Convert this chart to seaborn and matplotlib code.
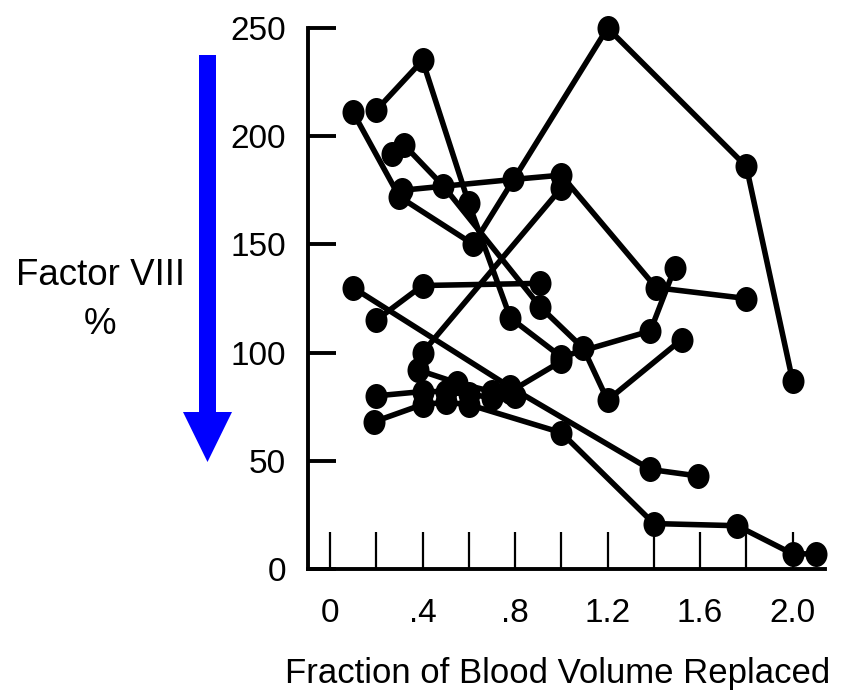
import numpy as np
import pandas as pd
import matplotlib
matplotlib.use("Agg")
import matplotlib.pyplot as plt
from matplotlib.markers import MarkerStyle
from matplotlib.transforms import Affine2D
from matplotlib.patches import FancyArrow
import seaborn as sns

# Factor VIII level (%) against fraction of blood volume replaced, one trace per patient
frac_a = [0.10, 0.30, 0.62, 1.20, 1.80, 2.00]
f8_a = [211, 172, 150, 250, 186, 87]

frac_b = [0.20, 0.40, 0.60, 0.78, 1.00, 1.385, 1.49]
f8_b = [212, 235, 169, 116, 98, 110, 139]

frac_c = [0.27, 0.32, 0.49, 0.91, 1.095, 1.20, 1.52]
f8_c = [192, 196, 177, 121, 102, 78, 106]

frac_d = [0.31, 0.79, 1.00, 1.41, 1.80]
f8_d = [175, 180, 182, 130, 125]

frac_e = [0.40, 1.00]
f8_e = [100, 176]

frac_f = [0.10, 0.78, 1.385, 1.59]
f8_f = [130, 84, 46, 43]

frac_g = [0.20, 0.40, 0.91]
f8_g = [115, 131, 132]

frac_h = [0.20, 0.40, 0.50, 0.60, 0.70, 0.78, 1.00]
f8_h = [80, 82, 82, 81, 79, 82, 96]

frac_i = [0.19, 0.40, 0.50, 0.60, 1.00, 1.40, 1.76, 2.00, 2.10]
f8_i = [68, 76, 77, 76, 63, 21, 20, 7, 7]

frac_j = [0.38, 0.55, 0.70, 0.80]
f8_j = [92, 86, 82, 80]

x_ticks = [0.0, 0.2, 0.4, 0.6, 0.8, 1.0, 1.2, 1.4, 1.6, 1.8, 2.0]
x_tick_labels = ["0", "", ".4", "", ".8", "", "1.2", "", "1.6", "", "2.0"]
y_ticks = [0, 50, 100, 150, 200, 250]
y_tick_labels = ["0", "50", "100", "150", "200", "250"]

traces = {
    "a": (frac_a, f8_a), "b": (frac_b, f8_b), "c": (frac_c, f8_c),
    "d": (frac_d, f8_d), "e": (frac_e, f8_e), "f": (frac_f, f8_f),
    "g": (frac_g, f8_g), "h": (frac_h, f8_h), "i": (frac_i, f8_i),
    "j": (frac_j, f8_j),
}
df = pd.concat(
    [pd.DataFrame({"patient": k, "order": range(len(xs)), "frac": xs, "f8": ys})
     for k, (xs, ys) in traces.items()],
    ignore_index=True,
)

sns.set_style("white")
plt.rcParams["font.family"] = ["Liberation Sans", "DejaVu Sans"]

W, H, DPI = 842, 697, 100
fig = plt.figure(figsize=(W / DPI, H / DPI), dpi=DPI)
ax = fig.add_axes([308 / W, (H - 569) / H, (825 - 308) / W, (569 - 28) / H])

# slightly tall ellipse marker, like a hand-inked dot
dot = MarkerStyle("o", transform=Affine2D().scale(0.88, 1.0))

sns.lineplot(
    data=df, x="frac", y="f8", units="patient", estimator=None, sort=False,
    color="black", linewidth=4.0, marker=dot, markersize=18,
    markeredgewidth=0, ax=ax, clip_on=False, legend=False,
)

ax.set_xlim(-0.095, 2.14)
ax.set_ylim(0, 250)

ax.set_xticks(x_ticks)
ax.set_xticklabels(x_tick_labels)
ax.set_yticks(y_ticks)
ax.set_yticklabels(y_tick_labels)

ax.tick_params(axis="x", bottom=True, direction="in", length=27, width=1.6, pad=21,
               labelsize=24, color="black", labelcolor="black")
ax.tick_params(axis="y", left=True, direction="in", length=20, width=2.8, pad=16,
               labelsize=24, color="black", labelcolor="black")

for side in ("top", "right"):
    ax.spines[side].set_visible(False)
for side in ("left", "bottom"):
    ax.spines[side].set_linewidth(2.8)
    ax.spines[side].set_color("black")

ax.set_xlabel("Fraction of Blood Volume Replaced", fontsize=25, color="black")
ax.xaxis.set_label_coords(0.482, -0.162)
ax.xaxis.label.set_va("top")

ax.set_ylabel("Factor VIII\n%", fontsize=26.5, color="black", rotation=0,
              ha="center", va="center", linespacing=1.5)
ax.yaxis.set_label_coords((100 - 308) / (825 - 308), (569 - 300) / (569 - 28))

# blue downward arrow beside the y axis (inch coordinates on the figure)
arrow = FancyArrow(
    2.075, (H - 55) / DPI, 0, -(462 - 55) / DPI,
    width=0.17, head_width=0.49, head_length=0.50,
    length_includes_head=True, color="#0000ff", linewidth=0,
    transform=fig.dpi_scale_trans,
)
fig.patches.append(arrow)

fig.savefig("out.png", dpi=DPI)
